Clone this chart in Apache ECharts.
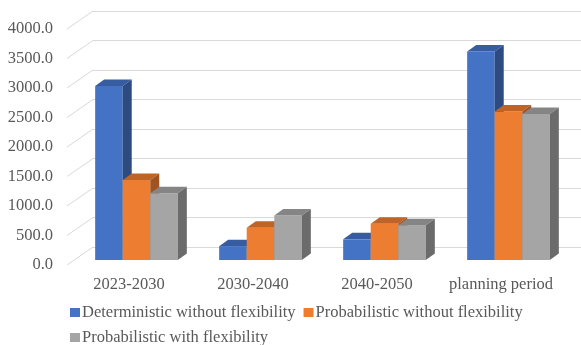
<!DOCTYPE html>
<html>
<head>
<meta charset="utf-8">
<script src="https://cdn.jsdelivr.net/npm/echarts@6/dist/echarts.min.js"></script>
<style>
  html, body { margin: 0; padding: 0; background: #ffffff; }
  #chart { width: 581px; height: 345px; }
</style>
</head>
<body>
<div id="chart"></div>
<script>
// Cost per period for the three planning approaches
const categories = ['2023-2030', '2030-2040', '2040-2050', 'planning period'];
const deterministicNoFlex = [2950, 235, 350, 3535];
const probabilisticNoFlex = [1355, 545, 615, 2515];
const probabilisticFlex = [1130, 755, 590, 2475];
const gridTicks = [0, 500, 1000, 1500, 2000, 2500, 3000, 3500, 4000];

const seriesNames = [
  'Deterministic without flexibility',
  'Probabilistic without flexibility',
  'Probabilistic with flexibility'
];
const seriesValues = [deterministicNoFlex, probabilisticNoFlex, probabilisticFlex];

// front / top / side face colours of the 3D columns
const faceColors = [
  { front: '#4472C4', top: '#375C9F', side: '#2D4B80' },
  { front: '#ED7D31', top: '#BF6427', side: '#A05320' },
  { front: '#A5A5A5', top: '#858585', side: '#6B6B6B' }
];

const FONT = "'Liberation Serif', 'Times New Roman', serif";
const TEXT = '#595959';
const GRID_LINE = '#D9D9D9';
const GAP_RATIO = 1.5;          // gap between groups, in bar widths
const BAR_DEPTH = [9, -6.5];    // oblique offset of a column's back face
const WALL_DEPTH = [26, -18];   // offset from the front edge to the back wall

function barRenderer(idx) {
  const c = faceColors[idx];
  return function (params, api) {
    const cat = api.value(0);
    const val = api.value(1);
    const topPt = api.coord([cat, val]);
    const basePt = api.coord([cat, 0]);
    const band = api.size([1, 0])[0];
    const bw = band / (3 + GAP_RATIO);
    const x0 = topPt[0] - 1.5 * bw + idx * bw;
    const x1 = x0 + bw;
    const yT = topPt[1];
    const yB = basePt[1];
    const dx = BAR_DEPTH[0], dy = BAR_DEPTH[1];
    return {
      type: 'group',
      children: [
        { type: 'rect', shape: { x: x0, y: yT, width: bw, height: yB - yT },
          style: { fill: c.front } },
        { type: 'polygon',
          shape: { points: [[x0, yT], [x1, yT], [x1 + dx, yT + dy], [x0 + dx, yT + dy]] },
          style: { fill: c.top } },
        { type: 'polygon',
          shape: { points: [[x1, yT], [x1 + dx, yT + dy], [x1 + dx, yB + dy], [x1, yB]] },
          style: { fill: c.side } }
      ]
    };
  };
}

// diagonal grid lines on the left side wall
function wallRenderer(params, api) {
  const p = api.coord([0, api.value(0)]);
  const band = api.size([1, 0])[0];
  const x = p[0] - band / 2;
  return {
    type: 'line',
    shape: { x1: x, y1: p[1], x2: x + WALL_DEPTH[0], y2: p[1] + WALL_DEPTH[1] },
    style: { stroke: GRID_LINE, lineWidth: 1 }
  };
}

const valueAxisBase = { type: 'value', min: 0, max: 4000, interval: 500 };

const chart = echarts.init(document.getElementById('chart'), null, { renderer: 'canvas' });

const option = {
  backgroundColor: '#ffffff',
  animation: false,
  textStyle: { fontFamily: FONT },
  grid: [
    // back wall
    { left: 93, right: -8, top: 11, bottom: 98 },
    // front faces of the columns
    { left: 74.5, right: 10.5, top: 24, bottom: 85 },
    // front edge (axis labels)
    { left: 67, right: 18, top: 29, bottom: 80 }
  ],
  xAxis: [
    { gridIndex: 0, type: 'category', data: categories, show: false },
    { gridIndex: 1, type: 'category', data: categories, show: false },
    { gridIndex: 2, type: 'category', data: categories,
      axisLine: { show: false }, axisTick: { show: false },
      axisLabel: { interval: 0, color: TEXT, fontSize: 16.5, fontFamily: FONT, margin: 11 } }
  ],
  yAxis: [
    Object.assign({ gridIndex: 0, axisLabel: { show: false }, axisLine: { show: false },
      axisTick: { show: false }, splitLine: { show: true, lineStyle: { color: GRID_LINE, width: 1 } } },
      valueAxisBase),
    Object.assign({ gridIndex: 1, show: false, splitLine: { show: false } }, valueAxisBase),
    Object.assign({ gridIndex: 2, axisLine: { show: false }, axisTick: { show: false },
      splitLine: { show: false },
      axisLabel: { color: TEXT, fontSize: 16.5, fontFamily: FONT, margin: 14,
        formatter: v => v.toFixed(1) } }, valueAxisBase)
  ],
  legend: {
    data: seriesNames,
    left: 65,
    top: 299,
    width: 500,
    icon: 'rect',
    itemWidth: 10,
    itemHeight: 9,
    itemGap: 8,
    textStyle: { color: TEXT, fontSize: 16.5, fontFamily: FONT, padding: [0, 0, 0, -3], lineHeight: 15 }
  },
  series: [
    {
      type: 'custom',
      name: 'wall',
      xAxisIndex: 2, yAxisIndex: 2,
      renderItem: wallRenderer,
      data: gridTicks.map(v => [v]),
      encode: { y: 0 },
      silent: true,
      z: 1
    }
  ].concat(seriesNames.map((name, i) => ({
    type: 'custom',
    name: name,
    xAxisIndex: 1, yAxisIndex: 1,
    itemStyle: { color: faceColors[i].front },
    renderItem: barRenderer(i),
    data: seriesValues[i].map((v, k) => [k, v]),
    encode: { x: 0, y: 1 },
    z: 2 + i
  })))
};

chart.setOption(option);
</script>
</body>
</html>
